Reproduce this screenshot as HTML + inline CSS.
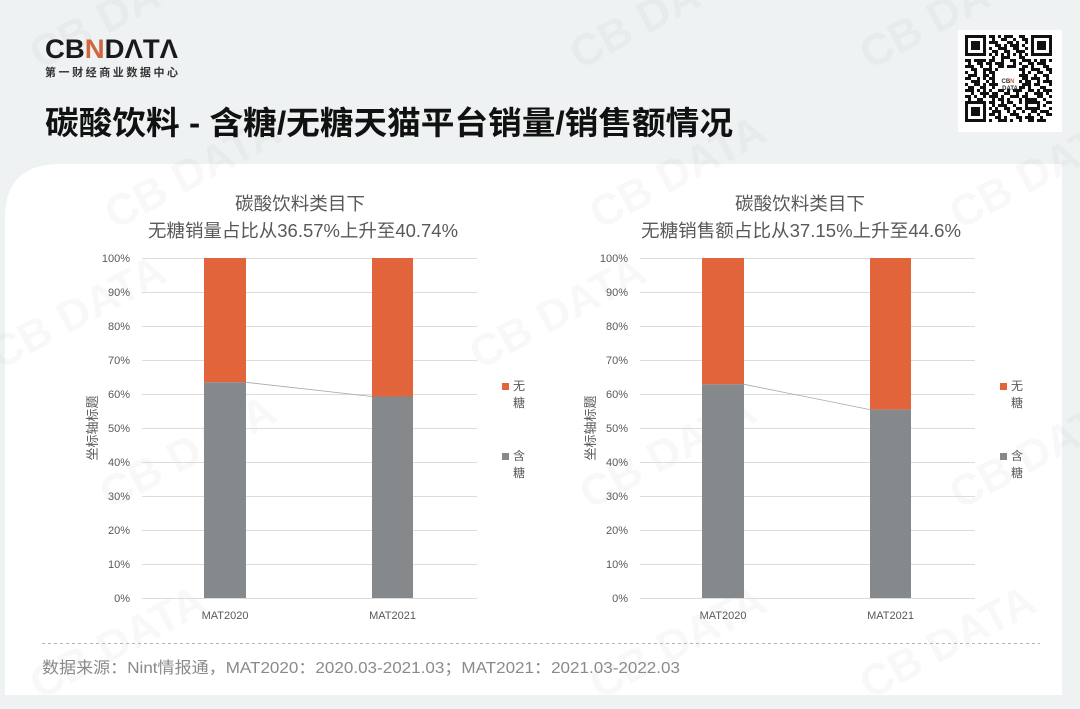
<!DOCTYPE html>
<html>
<head>
<meta charset="utf-8">
<style>
html,body{margin:0;padding:0;background:#eef2f2;}
body{width:1080px;height:709px;overflow:hidden;}
svg{display:block;}
text{font-family:"Liberation Sans","Noto Sans CJK SC",sans-serif;}
</style>
</head>
<body>
<svg width="1080" height="709" viewBox="0 0 1080 709" xmlns="http://www.w3.org/2000/svg">
  <rect x="0" y="0" width="1080" height="709" fill="#eef2f2"/>
  <!-- card -->
  <path d="M5,218 Q5,164 60,164 L1062,164 L1062,695 L5,695 Z" fill="#ffffff"/>

  <!-- watermarks -->
  <g fill="#000" opacity="0.028" font-weight="bold" font-size="44">
    <text x="40" y="70" transform="rotate(-28 40 70)">CB DATA</text>
    <text x="580" y="70" transform="rotate(-28 580 70)">CB DATA</text>
    <text x="870" y="70" transform="rotate(-28 870 70)">CB DATA</text>
    <text x="115" y="230" transform="rotate(-28 115 230)">CB DATA</text>
    <text x="600" y="230" transform="rotate(-28 600 230)">CB DATA</text>
    <text x="960" y="230" transform="rotate(-28 960 230)">CB DATA</text>
    <text x="0" y="370" transform="rotate(-28 0 370)">CB DATA</text>
    <text x="480" y="370" transform="rotate(-28 480 370)">CB DATA</text>
    <text x="110" y="510" transform="rotate(-28 110 510)">CB DATA</text>
    <text x="590" y="510" transform="rotate(-28 590 510)">CB DATA</text>
    <text x="960" y="510" transform="rotate(-28 960 510)">CB DATA</text>
    <text x="40" y="700" transform="rotate(-28 40 700)">CB DATA</text>
    <text x="600" y="700" transform="rotate(-28 600 700)">CB DATA</text>
    <text x="870" y="700" transform="rotate(-28 870 700)">CB DATA</text>
  </g>

  <!-- logo -->
  <text x="45" y="58" font-size="27" font-weight="bold" fill="#1a1a1a" textLength="133" lengthAdjust="spacingAndGlyphs">CB<tspan fill="#d0653f">N</tspan>DΛTΛ</text>
  <text x="45" y="76" font-size="11" font-weight="bold" fill="#333" textLength="133" lengthAdjust="spacing">第一财经商业数据中心</text>

  <!-- main title -->
  <text x="45" y="134" font-size="32" font-weight="bold" fill="#111" textLength="688" lengthAdjust="spacingAndGlyphs">碳酸饮料 - 含糖/无糖天猫平台销量/销售额情况</text>

  <!-- QR code -->
  <rect x="958" y="30" width="104" height="102" fill="#fff"/>
  <g transform="translate(965,35) scale(3)">
    <g fill="#111">
      <rect x="0" y="0" width="7" height="7"/><rect x="1" y="1" width="5" height="5" fill="#fff"/><rect x="2" y="2" width="3" height="3"/>
      <rect x="22" y="0" width="7" height="7"/><rect x="23" y="1" width="5" height="5" fill="#fff"/><rect x="24" y="2" width="3" height="3"/>
      <rect x="0" y="22" width="7" height="7"/><rect x="1" y="23" width="5" height="5" fill="#fff"/><rect x="2" y="24" width="3" height="3"/>
    </g>
    <path fill="none" stroke="#111" stroke-width="1" d="
      M8,0.5h2M11,0.5h1M13,0.5h3M18,0.5h2
      M9,1.5h1M12,1.5h2M16,1.5h1M19,1.5h2
      M8,2.5h3M14,2.5h2M17,2.5h1M20,2.5h1
      M10,3.5h2M13,3.5h1M15,3.5h3M19,3.5h1
      M8,4.5h1M11,4.5h3M16,4.5h2M20,4.5h1
      M9,5.5h2M13,5.5h2M17,5.5h3
      M8,6.5h1M10,6.5h1M12,6.5h1M14,6.5h1M16,6.5h1M18,6.5h1M20,6.5h1
      M9,7.5h1M12,7.5h3M18,7.5h2
      M0,8.5h2M3,8.5h3M6,8.5h1M8,8.5h2M12,8.5h1M15,8.5h2M19,8.5h3M23,8.5h1M25,8.5h2M28,8.5h1
      M1,9.5h1M4,9.5h2M7,9.5h2M10,9.5h3M16,9.5h1M18,9.5h1M21,9.5h2M24,9.5h3
      M0,10.5h3M5,10.5h1M8,10.5h1M11,10.5h2M14,10.5h3M19,10.5h2M22,10.5h1M26,10.5h2
      M2,11.5h2M6,11.5h3M10,11.5h1M18,11.5h2M22,11.5h3M27,11.5h2
      M0,12.5h1M3,12.5h1M6,12.5h1M8,12.5h2M19,12.5h1M21,12.5h1M24,12.5h2M28,12.5h1
      M1,13.5h3M6,13.5h2M9,13.5h1M18,13.5h3M23,13.5h1M26,13.5h2
      M0,14.5h2M4,14.5h1M6,14.5h1M8,14.5h2M19,14.5h2M22,14.5h3M27,14.5h1
      M2,15.5h3M7,15.5h1M9,15.5h1M18,15.5h1M20,15.5h2M24,15.5h1M26,15.5h3
      M0,16.5h1M3,16.5h2M6,16.5h1M8,16.5h3M19,16.5h3M23,16.5h2M28,16.5h1
      M1,17.5h2M5,17.5h2M9,17.5h1M18,17.5h2M21,17.5h1M25,17.5h2
      M0,18.5h3M4,18.5h1M6,18.5h1M8,18.5h1M11,18.5h2M14,18.5h1M16,18.5h3M21,18.5h2M24,18.5h1M26,18.5h3
      M2,19.5h1M5,19.5h3M9,19.5h2M13,19.5h2M17,19.5h1M20,19.5h1M23,19.5h3M27,19.5h1
      M0,20.5h2M3,20.5h1M6,20.5h1M8,20.5h3M12,20.5h1M15,20.5h3M19,20.5h2M24,20.5h2M28,20.5h1
      M1,21.5h1M4,21.5h2M9,21.5h1M11,21.5h2M14,21.5h1M18,21.5h1M20,21.5h4M26,21.5h1
      M8,22.5h2M12,22.5h1M14,22.5h2M18,22.5h1M20,22.5h5M27,22.5h2
      M9,23.5h1M11,23.5h3M16,23.5h1M20,23.5h1M24,23.5h1M26,23.5h1
      M8,24.5h1M10,24.5h1M13,24.5h2M17,24.5h2M20,24.5h5M28,24.5h1
      M9,25.5h3M14,25.5h1M16,25.5h1M19,25.5h1M22,25.5h2M25,25.5h3
      M8,26.5h2M11,26.5h1M15,26.5h3M21,26.5h1M24,26.5h1M27,26.5h2
      M10,27.5h2M13,27.5h1M17,27.5h2M20,27.5h3M25,27.5h1
      M8,28.5h1M11,28.5h3M15,28.5h1M18,28.5h1M21,28.5h2M24,28.5h3"/>
  </g>
  <text x="1008" y="83" font-size="6" font-weight="bold" fill="#333" text-anchor="middle">CB<tspan fill="#d0653f">N</tspan></text>
  <text x="1010" y="90" font-size="6" font-weight="bold" fill="#333" text-anchor="middle">DATA</text>

  <!-- ================= CHART 1 ================= -->
  <g>
    <text x="300" y="210" font-size="18" fill="#595959" text-anchor="middle" textLength="130" lengthAdjust="spacingAndGlyphs">碳酸饮料类目下</text>
    <text x="303" y="237" font-size="18" fill="#595959" text-anchor="middle" textLength="310" lengthAdjust="spacingAndGlyphs">无糖销量占比从36.57%上升至40.74%</text>
    <g stroke="#dcdcdc" stroke-width="1">
      <line x1="142" y1="258.5" x2="477" y2="258.5"/>
      <line x1="142" y1="292.5" x2="477" y2="292.5"/>
      <line x1="142" y1="326.5" x2="477" y2="326.5"/>
      <line x1="142" y1="360.5" x2="477" y2="360.5"/>
      <line x1="142" y1="394.5" x2="477" y2="394.5"/>
      <line x1="142" y1="428.5" x2="477" y2="428.5"/>
      <line x1="142" y1="462.5" x2="477" y2="462.5"/>
      <line x1="142" y1="496.5" x2="477" y2="496.5"/>
      <line x1="142" y1="530.5" x2="477" y2="530.5"/>
      <line x1="142" y1="564.5" x2="477" y2="564.5"/>
      <line x1="142" y1="598.5" x2="477" y2="598.5"/>
    </g>
    <g font-size="11" fill="#595959" text-anchor="end">
      <text x="130" y="262">100%</text>
      <text x="130" y="296">90%</text>
      <text x="130" y="330">80%</text>
      <text x="130" y="364">70%</text>
      <text x="130" y="398">60%</text>
      <text x="130" y="432">50%</text>
      <text x="130" y="466">40%</text>
      <text x="130" y="500">30%</text>
      <text x="130" y="534">20%</text>
      <text x="130" y="568">10%</text>
      <text x="130" y="602">0%</text>
    </g>
    <text x="0" y="0" font-size="13" fill="#595959" text-anchor="middle" transform="translate(97,428) rotate(-90)">坐标轴标题</text>
    <rect x="204" y="258" width="42" height="124.3" fill="#e2643b"/>
    <rect x="204" y="382.3" width="42" height="215.7" fill="#86898b"/>
    <rect x="372" y="258" width="41" height="138.5" fill="#e2643b"/>
    <rect x="372" y="396.5" width="41" height="201.5" fill="#86898b"/>
    <line x1="246" y1="382.3" x2="372" y2="396.5" stroke="#a9a9a9" stroke-width="0.8"/>
    <g font-size="11" fill="#595959" text-anchor="middle">
      <text x="225" y="619">MAT2020</text>
      <text x="392.5" y="619">MAT2021</text>
    </g>
    <rect x="502" y="383" width="7" height="7" fill="#e2643b"/>
    <rect x="502" y="453" width="7" height="7" fill="#86898b"/>
    <g font-size="12" fill="#595959">
      <text x="513" y="390">无</text>
      <text x="513" y="407">糖</text>
      <text x="513" y="460">含</text>
      <text x="513" y="477">糖</text>
    </g>
  </g>

  <!-- ================= CHART 2 ================= -->
  <g>
    <text x="800" y="210" font-size="18" fill="#595959" text-anchor="middle" textLength="130" lengthAdjust="spacingAndGlyphs">碳酸饮料类目下</text>
    <text x="801" y="237" font-size="18" fill="#595959" text-anchor="middle" textLength="320" lengthAdjust="spacingAndGlyphs">无糖销售额占比从37.15%上升至44.6%</text>
    <g stroke="#dcdcdc" stroke-width="1">
      <line x1="640" y1="258.5" x2="975" y2="258.5"/>
      <line x1="640" y1="292.5" x2="975" y2="292.5"/>
      <line x1="640" y1="326.5" x2="975" y2="326.5"/>
      <line x1="640" y1="360.5" x2="975" y2="360.5"/>
      <line x1="640" y1="394.5" x2="975" y2="394.5"/>
      <line x1="640" y1="428.5" x2="975" y2="428.5"/>
      <line x1="640" y1="462.5" x2="975" y2="462.5"/>
      <line x1="640" y1="496.5" x2="975" y2="496.5"/>
      <line x1="640" y1="530.5" x2="975" y2="530.5"/>
      <line x1="640" y1="564.5" x2="975" y2="564.5"/>
      <line x1="640" y1="598.5" x2="975" y2="598.5"/>
    </g>
    <g font-size="11" fill="#595959" text-anchor="end">
      <text x="628" y="262">100%</text>
      <text x="628" y="296">90%</text>
      <text x="628" y="330">80%</text>
      <text x="628" y="364">70%</text>
      <text x="628" y="398">60%</text>
      <text x="628" y="432">50%</text>
      <text x="628" y="466">40%</text>
      <text x="628" y="500">30%</text>
      <text x="628" y="534">20%</text>
      <text x="628" y="568">10%</text>
      <text x="628" y="602">0%</text>
    </g>
    <text x="0" y="0" font-size="13" fill="#595959" text-anchor="middle" transform="translate(595,428) rotate(-90)">坐标轴标题</text>
    <rect x="702" y="258" width="42" height="126.3" fill="#e2643b"/>
    <rect x="702" y="384.3" width="42" height="213.7" fill="#86898b"/>
    <rect x="870" y="258" width="41" height="151.6" fill="#e2643b"/>
    <rect x="870" y="409.6" width="41" height="188.4" fill="#86898b"/>
    <line x1="744" y1="384.3" x2="870" y2="409.6" stroke="#a9a9a9" stroke-width="0.8"/>
    <g font-size="11" fill="#595959" text-anchor="middle">
      <text x="723" y="619">MAT2020</text>
      <text x="890.5" y="619">MAT2021</text>
    </g>
    <rect x="1000" y="383" width="7" height="7" fill="#e2643b"/>
    <rect x="1000" y="453" width="7" height="7" fill="#86898b"/>
    <g font-size="12" fill="#595959">
      <text x="1011" y="390">无</text>
      <text x="1011" y="407">糖</text>
      <text x="1011" y="460">含</text>
      <text x="1011" y="477">糖</text>
    </g>
  </g>

  <!-- footer -->
  <line x1="42" y1="643.5" x2="1040" y2="643.5" stroke="#b5b5b5" stroke-width="1" stroke-dasharray="3,3"/>
  <text x="42" y="673" font-size="16" fill="#8a8a8a" textLength="638" lengthAdjust="spacingAndGlyphs">数据来源：Nint情报通，MAT2020：2020.03-2021.03；MAT2021：2021.03-2022.03</text>
</svg>
</body>
</html>
